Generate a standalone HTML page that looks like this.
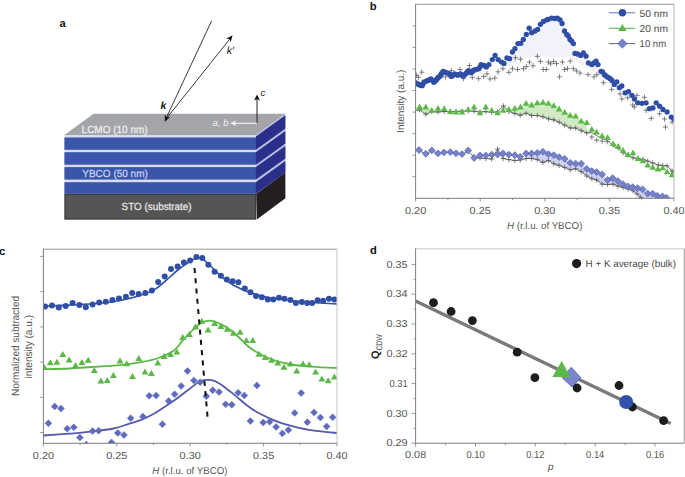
<!DOCTYPE html><html><head><meta charset="utf-8"><style>html,body{margin:0;padding:0;background:#fff;overflow:hidden}svg{display:block}text{font-family:"Liberation Sans", sans-serif;text-rendering:geometricPrecision}</style></head><body>
<svg width="685" height="477" viewBox="0 0 685 477" font-family='"Liberation Sans", sans-serif'>
<rect width="685" height="477" fill="#fff"/>
<text x="59.6" y="27.2" font-size="11.2" text-anchor="start" fill="#111" font-weight="bold">a</text>
<polygon points="64.4,135 256.2,135 285.4,113.8 93.6,113.8" fill="#a4a5a9"/>
<rect x="64.4" y="135.0" width="191.79999999999998" height="58.8" fill="#d9dcef"/>
<rect x="64.4" y="137.5" width="191.79999999999998" height="12.3" fill="#3a56aa"/>
<rect x="64.4" y="152.2" width="191.79999999999998" height="12.5" fill="#3a56aa"/>
<rect x="64.4" y="167.1" width="191.79999999999998" height="12.5" fill="#3a56aa"/>
<rect x="64.4" y="182.2" width="191.79999999999998" height="11.6" fill="#3a56aa"/>
<rect x="64.9" y="194.3" width="190.8" height="24.8" fill="#555556" stroke="#2c2c2c" stroke-width="1"/>
<polygon points="256.2,135 285.4,113.8 285.4,172.6 256.2,193.8" fill="#b9bde2"/>
<polygon points="255.9,136.4 285.4,115.2 285.4,128.6 255.9,149.8" fill="#2a2f8b"/>
<polygon points="255.9,152.2 285.4,131 285.4,143.5 255.9,164.7" fill="#2a2f8b"/>
<polygon points="255.9,167.1 285.4,145.9 285.4,158.4 255.9,179.6" fill="#2a2f8b"/>
<polygon points="255.9,182.2 285.4,161 285.4,172.6 255.9,193.8" fill="#2a2f8b"/>
<polygon points="256.2,193.8 285.4,172.6 285.4,198.2 256.8,219.4" fill="#231f20"/>
<text x="81.6" y="133.2" font-size="10.3" text-anchor="start" fill="#efeff2" textLength="66" lengthAdjust="spacingAndGlyphs" stroke="#efeff2" stroke-width="0.25">LCMO (10 nm)</text>
<text x="82.3" y="176.9" font-size="10.3" text-anchor="start" fill="#c8d1f6" textLength="65.5" lengthAdjust="spacingAndGlyphs" stroke="#c8d1f6" stroke-width="0.25">YBCO (50 nm)</text>
<text x="121.6" y="209.6" font-size="10.3" text-anchor="start" fill="#e6e6e6" textLength="70" lengthAdjust="spacingAndGlyphs" stroke="#e6e6e6" stroke-width="0.25">STO (substrate)</text>
<line x1="211.7" y1="20.7" x2="166" y2="118.5" stroke="#222" stroke-width="0.9"/>
<line x1="166" y1="119" x2="229.8" y2="39" stroke="#222" stroke-width="0.9"/>
<polygon points="164.7,121.8 164.9,114.4 166.8,117.4 170.2,116.9" fill="#111"/>
<polygon points="232.6,35.2 230.6,42.3 229.6,39 226.1,38.7" fill="#111"/>
<text x="160.4" y="108.9" font-size="10.5" text-anchor="start" fill="#111" font-weight="bold" font-style="italic">k</text>
<text x="226.8" y="53.8" font-size="10.5" text-anchor="start" fill="#111" font-style="italic">k′</text>
<line x1="257" y1="123.3" x2="257" y2="99" stroke="#222" stroke-width="1"/>
<polygon points="257,94.6 260,100.6 257,98.9 254,100.6" fill="#111"/>
<text x="260.6" y="95.6" font-size="9.5" text-anchor="start" fill="#111" font-style="italic">c</text>
<line x1="257" y1="123.3" x2="234" y2="123.3" stroke="#f2f2f2" stroke-width="1.1"/>
<polygon points="230,123.3 236.5,120.3 234.7,123.3 236.5,126.3" fill="#f2f2f2"/>
<text x="212.6" y="126" font-size="9.5" text-anchor="start" fill="#f0f0f0" font-style="italic">a, b</text>
<text x="369.8" y="10" font-size="11.2" text-anchor="start" fill="#111" font-weight="bold">b</text>
<defs><clipPath id="cb"><rect x="415.6" y="4.3" width="258.4" height="194"/></clipPath></defs>
<g clip-path="url(#cb)">
<polygon points="507,66 509.5,58.7 512.4,52 514.9,48.7 517.9,43.6 520.8,43.3 523.3,39.4 526.3,34.4 529.2,28.2 531.7,32.7 535,31 537.6,29.4 540.4,24.3 543.4,21.5 546.8,19.8 548.2,19.3 551.6,18.1 554.9,18.5 557.4,18.1 560,19.8 562.1,23.5 564.5,31 566.7,34.4 568.3,36 570,39.4 571.7,41.1 573.4,43.6 575,53.4 577.6,54 580.6,55.4 583.4,52.9 586,56.2 588.5,62.9 591.8,64.6 594,63 596,61.2 598,64.6 600,80 600,76 590,70 580,64 570,58 560,57 550,57 540,56.5 530,57.5 520,59 515,62 507,66" fill="#f2f2fa"/>
<polygon points="415.6,107.5 419.6,106.8 425.8,106.8 431.8,110.1 431.8,111.5 425.8,114.3 419.6,109.8 415.6,110.5" fill="#cfeac4"/>
<polygon points="503.1,110.1 508.8,109.3 514.8,108.1 520.5,106.8 526.1,103.1 531.6,104.8 537.3,102.6 542.9,102.1 548.4,103.1 553.8,105.4 559.1,108.8 564.7,112.1 570.2,115.2 575.7,115.9 581.2,121 586.7,122.5 586.7,132.9 581.2,130.7 575.7,128 570.2,128 564.7,125.2 559.1,122.2 553.8,119.9 548.4,118.9 542.9,116.8 537.3,115.5 531.6,115.5 526.1,113.2 520.2,115.2 514.8,113.5 508.8,111.5 503.4,105.9" fill="#cfeac4"/>
<polygon points="526.1,153.4 531.6,153.4 537.3,152.9 542.9,151.7 548.4,154.1 553.8,155.1 559.1,157.1 564.7,158.8 570.2,162.8 575.7,163.7 581.2,163.7 586.7,168.8 591.8,171 596.6,172.1 602.1,174.4 607.6,180 612.6,178.1 617.8,181 622.8,184.1 627.8,186.3 632.7,187.1 637.6,188.2 642.6,189.4 647.7,193.5 652.6,193.6 657.2,195.8 662.5,196.4 666.4,197.7 645,201 640.7,197.4 637,194 633,190.8 628,189 623.1,187.5 618,186 613.2,184.2 607.6,184.5 602.1,184.2 596.6,180 591.8,178.7 586.7,176 581.2,171.7 575.7,168.8 570.2,169.8 564.7,167.5 559.1,165.5 553.8,163.8 548.4,160.5 542.9,162.5 537.3,159.6 531.6,158.5 526.1,158.5" fill="#cdd0ee"/>
<polyline points="416.6,75.2 418.3,77.3 421.7,72.2 445.4,76.9 451.3,70.6 460.1,69.5 463.5,78.6 469.4,65.5 472.3,77.3 478.6,78.6 483.7,76.5 487,73.8 490,79 494.8,78 498,71.8 502.9,68.7 508.8,72.4 512.5,68.7 515.4,57.7 517.6,69.5 520.6,59.2 523.5,68.7 526.4,66.5 529.4,62.1 533,65.8 537.4,56.3 540.4,61.4 543.3,69.5 546.3,69.5 548.5,62.1 550.7,63.8 553.6,61.4 556.5,63.6 559.5,76.8 562.4,62.1 564.6,69.5 567.5,68.7 570.2,61.1 573.4,68.7 576.4,70.9 580,73.1 588.1,74.6 594,76.8 596.9,74.6 603.4,82.7 611.7,89.4 620.1,93.9 621.8,99 627.7,97.8 632.7,105 634.4,107 636.9,95.3 644.5,97.3 646.1,110.4 651.2,118.4 659.6,113.7 664.6,119 665.4,127.1 672.1,122.1" fill="none" stroke="#dcdcdc" stroke-width="0.4"/>
<path d="M414,75.2h5.2M416.6,72.6v5.2" stroke="#5c5c5c" stroke-width="0.75" fill="none"/>
<path d="M415.7,77.3h5.2M418.3,74.7v5.2" stroke="#5c5c5c" stroke-width="0.75" fill="none"/>
<path d="M419.1,72.2h5.2M421.7,69.6v5.2" stroke="#5c5c5c" stroke-width="0.75" fill="none"/>
<path d="M442.8,76.9h5.2M445.4,74.3v5.2" stroke="#5c5c5c" stroke-width="0.75" fill="none"/>
<path d="M448.7,70.6h5.2M451.3,68v5.2" stroke="#5c5c5c" stroke-width="0.75" fill="none"/>
<path d="M457.5,69.5h5.2M460.1,66.9v5.2" stroke="#5c5c5c" stroke-width="0.75" fill="none"/>
<path d="M460.9,78.6h5.2M463.5,76v5.2" stroke="#5c5c5c" stroke-width="0.75" fill="none"/>
<path d="M466.8,65.5h5.2M469.4,62.9v5.2" stroke="#5c5c5c" stroke-width="0.75" fill="none"/>
<path d="M469.7,77.3h5.2M472.3,74.7v5.2" stroke="#5c5c5c" stroke-width="0.75" fill="none"/>
<path d="M476,78.6h5.2M478.6,76v5.2" stroke="#5c5c5c" stroke-width="0.75" fill="none"/>
<path d="M481.1,76.5h5.2M483.7,73.9v5.2" stroke="#5c5c5c" stroke-width="0.75" fill="none"/>
<path d="M484.4,73.8h5.2M487,71.2v5.2" stroke="#5c5c5c" stroke-width="0.75" fill="none"/>
<path d="M487.4,79h5.2M490,76.4v5.2" stroke="#5c5c5c" stroke-width="0.75" fill="none"/>
<path d="M492.2,78h5.2M494.8,75.4v5.2" stroke="#5c5c5c" stroke-width="0.75" fill="none"/>
<path d="M495.4,71.8h5.2M498,69.2v5.2" stroke="#5c5c5c" stroke-width="0.75" fill="none"/>
<path d="M500.3,68.7h5.2M502.9,66.1v5.2" stroke="#5c5c5c" stroke-width="0.75" fill="none"/>
<path d="M506.2,72.4h5.2M508.8,69.8v5.2" stroke="#5c5c5c" stroke-width="0.75" fill="none"/>
<path d="M509.9,68.7h5.2M512.5,66.1v5.2" stroke="#5c5c5c" stroke-width="0.75" fill="none"/>
<path d="M512.8,57.7h5.2M515.4,55.1v5.2" stroke="#5c5c5c" stroke-width="0.75" fill="none"/>
<path d="M515,69.5h5.2M517.6,66.9v5.2" stroke="#5c5c5c" stroke-width="0.75" fill="none"/>
<path d="M518,59.2h5.2M520.6,56.6v5.2" stroke="#5c5c5c" stroke-width="0.75" fill="none"/>
<path d="M520.9,68.7h5.2M523.5,66.1v5.2" stroke="#5c5c5c" stroke-width="0.75" fill="none"/>
<path d="M523.8,66.5h5.2M526.4,63.9v5.2" stroke="#5c5c5c" stroke-width="0.75" fill="none"/>
<path d="M526.8,62.1h5.2M529.4,59.5v5.2" stroke="#5c5c5c" stroke-width="0.75" fill="none"/>
<path d="M530.4,65.8h5.2M533,63.2v5.2" stroke="#5c5c5c" stroke-width="0.75" fill="none"/>
<path d="M534.8,56.3h5.2M537.4,53.7v5.2" stroke="#5c5c5c" stroke-width="0.75" fill="none"/>
<path d="M537.8,61.4h5.2M540.4,58.8v5.2" stroke="#5c5c5c" stroke-width="0.75" fill="none"/>
<path d="M540.7,69.5h5.2M543.3,66.9v5.2" stroke="#5c5c5c" stroke-width="0.75" fill="none"/>
<path d="M543.7,69.5h5.2M546.3,66.9v5.2" stroke="#5c5c5c" stroke-width="0.75" fill="none"/>
<path d="M545.9,62.1h5.2M548.5,59.5v5.2" stroke="#5c5c5c" stroke-width="0.75" fill="none"/>
<path d="M548.1,63.8h5.2M550.7,61.2v5.2" stroke="#5c5c5c" stroke-width="0.75" fill="none"/>
<path d="M551,61.4h5.2M553.6,58.8v5.2" stroke="#5c5c5c" stroke-width="0.75" fill="none"/>
<path d="M553.9,63.6h5.2M556.5,61v5.2" stroke="#5c5c5c" stroke-width="0.75" fill="none"/>
<path d="M556.9,76.8h5.2M559.5,74.2v5.2" stroke="#5c5c5c" stroke-width="0.75" fill="none"/>
<path d="M559.8,62.1h5.2M562.4,59.5v5.2" stroke="#5c5c5c" stroke-width="0.75" fill="none"/>
<path d="M562,69.5h5.2M564.6,66.9v5.2" stroke="#5c5c5c" stroke-width="0.75" fill="none"/>
<path d="M564.9,68.7h5.2M567.5,66.1v5.2" stroke="#5c5c5c" stroke-width="0.75" fill="none"/>
<path d="M567.6,61.1h5.2M570.2,58.5v5.2" stroke="#5c5c5c" stroke-width="0.75" fill="none"/>
<path d="M570.8,68.7h5.2M573.4,66.1v5.2" stroke="#5c5c5c" stroke-width="0.75" fill="none"/>
<path d="M573.8,70.9h5.2M576.4,68.3v5.2" stroke="#5c5c5c" stroke-width="0.75" fill="none"/>
<path d="M577.4,73.1h5.2M580,70.5v5.2" stroke="#5c5c5c" stroke-width="0.75" fill="none"/>
<path d="M585.5,74.6h5.2M588.1,72v5.2" stroke="#5c5c5c" stroke-width="0.75" fill="none"/>
<path d="M591.4,76.8h5.2M594,74.2v5.2" stroke="#5c5c5c" stroke-width="0.75" fill="none"/>
<path d="M594.3,74.6h5.2M596.9,72v5.2" stroke="#5c5c5c" stroke-width="0.75" fill="none"/>
<path d="M600.8,82.7h5.2M603.4,80.1v5.2" stroke="#5c5c5c" stroke-width="0.75" fill="none"/>
<path d="M609.1,89.4h5.2M611.7,86.8v5.2" stroke="#5c5c5c" stroke-width="0.75" fill="none"/>
<path d="M617.5,93.9h5.2M620.1,91.3v5.2" stroke="#5c5c5c" stroke-width="0.75" fill="none"/>
<path d="M619.2,99h5.2M621.8,96.4v5.2" stroke="#5c5c5c" stroke-width="0.75" fill="none"/>
<path d="M625.1,97.8h5.2M627.7,95.2v5.2" stroke="#5c5c5c" stroke-width="0.75" fill="none"/>
<path d="M630.1,105h5.2M632.7,102.4v5.2" stroke="#5c5c5c" stroke-width="0.75" fill="none"/>
<path d="M631.8,107h5.2M634.4,104.4v5.2" stroke="#5c5c5c" stroke-width="0.75" fill="none"/>
<path d="M634.3,95.3h5.2M636.9,92.7v5.2" stroke="#5c5c5c" stroke-width="0.75" fill="none"/>
<path d="M641.9,97.3h5.2M644.5,94.7v5.2" stroke="#5c5c5c" stroke-width="0.75" fill="none"/>
<path d="M643.5,110.4h5.2M646.1,107.8v5.2" stroke="#5c5c5c" stroke-width="0.75" fill="none"/>
<path d="M648.6,118.4h5.2M651.2,115.8v5.2" stroke="#5c5c5c" stroke-width="0.75" fill="none"/>
<path d="M657,113.7h5.2M659.6,111.1v5.2" stroke="#5c5c5c" stroke-width="0.75" fill="none"/>
<path d="M662,119h5.2M664.6,116.4v5.2" stroke="#5c5c5c" stroke-width="0.75" fill="none"/>
<path d="M662.8,127.1h5.2M665.4,124.5v5.2" stroke="#5c5c5c" stroke-width="0.75" fill="none"/>
<path d="M669.5,122.1h5.2M672.1,119.5v5.2" stroke="#5c5c5c" stroke-width="0.75" fill="none"/>
<polyline points="415.6,110.5 419.6,109.8 425.8,114.3 431.8,111.5 438,112 444.2,111.5 450.3,111.8 456,111.5 462,111 468.2,111 474.1,111.2 480,112 485.8,111.6 491.7,112.5 497.6,111.8 503.4,105.9 508.8,111.5 514.8,113.5 520.2,115.2 526.1,113.2 531.6,115.5 537.3,115.5 542.9,116.8 548.4,118.9 553.8,119.9 559.1,122.2 564.7,125.2 570.2,128 575.7,128 581.2,130.7 586.7,132.9 591.8,132.5 596.6,135.5 602.1,138.6 607.6,140.3 613.2,146 618.2,148.4 623.1,152.7 628,155 633,157.8 638,158.5 643,159.5 647.7,161.1 652.8,163 658.3,165 662.7,165.5 667.1,165.9 672,171 674,172" fill="none" stroke="#4a4a4a" stroke-width="0.8"/>
<path d="M417,109.8h5.2M419.6,107.2v5.2" stroke="#555" stroke-width="0.75" fill="none"/>
<path d="M423.2,114.3h5.2M425.8,111.7v5.2" stroke="#555" stroke-width="0.75" fill="none"/>
<path d="M429.2,111.5h5.2M431.8,108.9v5.2" stroke="#555" stroke-width="0.75" fill="none"/>
<path d="M435.4,112h5.2M438,109.4v5.2" stroke="#555" stroke-width="0.75" fill="none"/>
<path d="M441.6,111.5h5.2M444.2,108.9v5.2" stroke="#555" stroke-width="0.75" fill="none"/>
<path d="M447.7,111.8h5.2M450.3,109.2v5.2" stroke="#555" stroke-width="0.75" fill="none"/>
<path d="M453.4,111.5h5.2M456,108.9v5.2" stroke="#555" stroke-width="0.75" fill="none"/>
<path d="M459.4,111h5.2M462,108.4v5.2" stroke="#555" stroke-width="0.75" fill="none"/>
<path d="M465.6,111h5.2M468.2,108.4v5.2" stroke="#555" stroke-width="0.75" fill="none"/>
<path d="M471.5,111.2h5.2M474.1,108.6v5.2" stroke="#555" stroke-width="0.75" fill="none"/>
<path d="M477.4,112h5.2M480,109.4v5.2" stroke="#555" stroke-width="0.75" fill="none"/>
<path d="M483.2,111.6h5.2M485.8,109v5.2" stroke="#555" stroke-width="0.75" fill="none"/>
<path d="M489.1,112.5h5.2M491.7,109.9v5.2" stroke="#555" stroke-width="0.75" fill="none"/>
<path d="M495,111.8h5.2M497.6,109.2v5.2" stroke="#555" stroke-width="0.75" fill="none"/>
<path d="M500.8,105.9h5.2M503.4,103.3v5.2" stroke="#555" stroke-width="0.75" fill="none"/>
<path d="M506.2,111.5h5.2M508.8,108.9v5.2" stroke="#555" stroke-width="0.75" fill="none"/>
<path d="M512.2,113.5h5.2M514.8,110.9v5.2" stroke="#555" stroke-width="0.75" fill="none"/>
<path d="M517.6,115.2h5.2M520.2,112.6v5.2" stroke="#555" stroke-width="0.75" fill="none"/>
<path d="M523.5,113.2h5.2M526.1,110.6v5.2" stroke="#555" stroke-width="0.75" fill="none"/>
<path d="M529,115.5h5.2M531.6,112.9v5.2" stroke="#555" stroke-width="0.75" fill="none"/>
<path d="M534.7,115.5h5.2M537.3,112.9v5.2" stroke="#555" stroke-width="0.75" fill="none"/>
<path d="M540.3,116.8h5.2M542.9,114.2v5.2" stroke="#555" stroke-width="0.75" fill="none"/>
<path d="M545.8,118.9h5.2M548.4,116.3v5.2" stroke="#555" stroke-width="0.75" fill="none"/>
<path d="M551.2,119.9h5.2M553.8,117.3v5.2" stroke="#555" stroke-width="0.75" fill="none"/>
<path d="M556.5,122.2h5.2M559.1,119.6v5.2" stroke="#555" stroke-width="0.75" fill="none"/>
<path d="M562.1,125.2h5.2M564.7,122.6v5.2" stroke="#555" stroke-width="0.75" fill="none"/>
<path d="M567.6,128h5.2M570.2,125.4v5.2" stroke="#555" stroke-width="0.75" fill="none"/>
<path d="M573.1,128h5.2M575.7,125.4v5.2" stroke="#555" stroke-width="0.75" fill="none"/>
<path d="M578.6,130.7h5.2M581.2,128.1v5.2" stroke="#555" stroke-width="0.75" fill="none"/>
<path d="M584.1,132.9h5.2M586.7,130.3v5.2" stroke="#555" stroke-width="0.75" fill="none"/>
<path d="M589.2,137h5.2M591.8,134.4v5.2" stroke="#555" stroke-width="0.75" fill="none"/>
<path d="M594,140.2h5.2M596.6,137.6v5.2" stroke="#555" stroke-width="0.75" fill="none"/>
<path d="M599.5,141h5.2M602.1,138.4v5.2" stroke="#555" stroke-width="0.75" fill="none"/>
<path d="M604.6,141.7h5.2M607.2,139.1v5.2" stroke="#555" stroke-width="0.75" fill="none"/>
<path d="M610.6,145h5.2M613.2,142.4v5.2" stroke="#555" stroke-width="0.75" fill="none"/>
<path d="M615.6,147.9h5.2M618.2,145.3v5.2" stroke="#555" stroke-width="0.75" fill="none"/>
<path d="M620.5,152.7h5.2M623.1,150.1v5.2" stroke="#555" stroke-width="0.75" fill="none"/>
<path d="M625.4,155h5.2M628,152.4v5.2" stroke="#555" stroke-width="0.75" fill="none"/>
<path d="M630.4,157.8h5.2M633,155.2v5.2" stroke="#555" stroke-width="0.75" fill="none"/>
<path d="M635.4,158.5h5.2M638,155.9v5.2" stroke="#555" stroke-width="0.75" fill="none"/>
<path d="M640.4,159.5h5.2M643,156.9v5.2" stroke="#555" stroke-width="0.75" fill="none"/>
<path d="M645.1,161.1h5.2M647.7,158.5v5.2" stroke="#555" stroke-width="0.75" fill="none"/>
<path d="M650.2,163h5.2M652.8,160.4v5.2" stroke="#555" stroke-width="0.75" fill="none"/>
<path d="M655.7,165h5.2M658.3,162.4v5.2" stroke="#555" stroke-width="0.75" fill="none"/>
<path d="M660.1,165.5h5.2M662.7,162.9v5.2" stroke="#555" stroke-width="0.75" fill="none"/>
<path d="M664.5,165.9h5.2M667.1,163.3v5.2" stroke="#555" stroke-width="0.75" fill="none"/>
<path d="M669.4,171h5.2M672,168.4v5.2" stroke="#555" stroke-width="0.75" fill="none"/>
<path d="M671.4,172h5.2M674,169.4v5.2" stroke="#555" stroke-width="0.75" fill="none"/>
<polyline points="415.6,150.5 419,150.8 425.8,153.5 431.8,151 438,153.2 444,152.6 450.3,152.4 456,153.3 462,154 468.2,151.5 474.1,157 480,158 485.8,158.5 491.7,159 497.6,149 503.1,158.5 508.8,159.6 514.8,160.5 520.2,160 526.1,158.5 531.6,158.5 537.3,159.6 542.9,162.5 548.4,160.5 553.8,163.8 559.1,165.5 564.7,167.5 570.2,169.8 575.7,168.8 581.2,171.7 586.7,176 591.8,178.7 596.6,180 602.1,184.2 607.6,184.5 613.2,184.2 618,186 623.1,187.5 628,189 633,190.8 637,194 640.7,197.4 645,201" fill="none" stroke="#4a4a4a" stroke-width="0.8"/>
<path d="M416.4,150.8h5.2M419,148.2v5.2" stroke="#555" stroke-width="0.75" fill="none"/>
<path d="M423.2,153.5h5.2M425.8,150.9v5.2" stroke="#555" stroke-width="0.75" fill="none"/>
<path d="M429.2,151h5.2M431.8,148.4v5.2" stroke="#555" stroke-width="0.75" fill="none"/>
<path d="M435.4,153.2h5.2M438,150.6v5.2" stroke="#555" stroke-width="0.75" fill="none"/>
<path d="M441.4,152.6h5.2M444,150v5.2" stroke="#555" stroke-width="0.75" fill="none"/>
<path d="M447.7,152.4h5.2M450.3,149.8v5.2" stroke="#555" stroke-width="0.75" fill="none"/>
<path d="M453.4,153.3h5.2M456,150.7v5.2" stroke="#555" stroke-width="0.75" fill="none"/>
<path d="M459.4,154h5.2M462,151.4v5.2" stroke="#555" stroke-width="0.75" fill="none"/>
<path d="M465.6,151.5h5.2M468.2,148.9v5.2" stroke="#555" stroke-width="0.75" fill="none"/>
<path d="M471.5,157h5.2M474.1,154.4v5.2" stroke="#555" stroke-width="0.75" fill="none"/>
<path d="M477.4,158h5.2M480,155.4v5.2" stroke="#555" stroke-width="0.75" fill="none"/>
<path d="M483.2,158.5h5.2M485.8,155.9v5.2" stroke="#555" stroke-width="0.75" fill="none"/>
<path d="M489.1,159h5.2M491.7,156.4v5.2" stroke="#555" stroke-width="0.75" fill="none"/>
<path d="M495,149h5.2M497.6,146.4v5.2" stroke="#555" stroke-width="0.75" fill="none"/>
<path d="M500.5,158.5h5.2M503.1,155.9v5.2" stroke="#555" stroke-width="0.75" fill="none"/>
<path d="M506.2,159.6h5.2M508.8,157v5.2" stroke="#555" stroke-width="0.75" fill="none"/>
<path d="M512.2,160.5h5.2M514.8,157.9v5.2" stroke="#555" stroke-width="0.75" fill="none"/>
<path d="M517.6,160h5.2M520.2,157.4v5.2" stroke="#555" stroke-width="0.75" fill="none"/>
<path d="M523.5,158.5h5.2M526.1,155.9v5.2" stroke="#555" stroke-width="0.75" fill="none"/>
<path d="M529,158.5h5.2M531.6,155.9v5.2" stroke="#555" stroke-width="0.75" fill="none"/>
<path d="M534.7,159.6h5.2M537.3,157v5.2" stroke="#555" stroke-width="0.75" fill="none"/>
<path d="M540.3,162.5h5.2M542.9,159.9v5.2" stroke="#555" stroke-width="0.75" fill="none"/>
<path d="M545.8,160.5h5.2M548.4,157.9v5.2" stroke="#555" stroke-width="0.75" fill="none"/>
<path d="M551.2,163.8h5.2M553.8,161.2v5.2" stroke="#555" stroke-width="0.75" fill="none"/>
<path d="M556.5,165.5h5.2M559.1,162.9v5.2" stroke="#555" stroke-width="0.75" fill="none"/>
<path d="M562.1,167.5h5.2M564.7,164.9v5.2" stroke="#555" stroke-width="0.75" fill="none"/>
<path d="M567.6,169.8h5.2M570.2,167.2v5.2" stroke="#555" stroke-width="0.75" fill="none"/>
<path d="M573.1,168.8h5.2M575.7,166.2v5.2" stroke="#555" stroke-width="0.75" fill="none"/>
<path d="M578.6,171.7h5.2M581.2,169.1v5.2" stroke="#555" stroke-width="0.75" fill="none"/>
<path d="M584.1,176h5.2M586.7,173.4v5.2" stroke="#555" stroke-width="0.75" fill="none"/>
<path d="M589.2,178.7h5.2M591.8,176.1v5.2" stroke="#555" stroke-width="0.75" fill="none"/>
<path d="M594,180h5.2M596.6,177.4v5.2" stroke="#555" stroke-width="0.75" fill="none"/>
<path d="M599.5,184.2h5.2M602.1,181.6v5.2" stroke="#555" stroke-width="0.75" fill="none"/>
<path d="M605,184.5h5.2M607.6,181.9v5.2" stroke="#555" stroke-width="0.75" fill="none"/>
<path d="M610.6,184.2h5.2M613.2,181.6v5.2" stroke="#555" stroke-width="0.75" fill="none"/>
<path d="M615.4,186h5.2M618,183.4v5.2" stroke="#555" stroke-width="0.75" fill="none"/>
<path d="M620.5,187.5h5.2M623.1,184.9v5.2" stroke="#555" stroke-width="0.75" fill="none"/>
<path d="M625.4,189h5.2M628,186.4v5.2" stroke="#555" stroke-width="0.75" fill="none"/>
<path d="M630.4,190.8h5.2M633,188.2v5.2" stroke="#555" stroke-width="0.75" fill="none"/>
<path d="M634.4,194h5.2M637,191.4v5.2" stroke="#555" stroke-width="0.75" fill="none"/>
<path d="M638.1,197.4h5.2M640.7,194.8v5.2" stroke="#555" stroke-width="0.75" fill="none"/>
<path d="M642.4,201h5.2M645,198.4v5.2" stroke="#555" stroke-width="0.75" fill="none"/>
<circle cx="415.6" cy="82.7" r="2.65" fill="#2f4ea6"/>
<circle cx="417.9" cy="84" r="2.65" fill="#2f4ea6"/>
<circle cx="419.1" cy="84.7" r="2.65" fill="#2f4ea6"/>
<circle cx="420.4" cy="85.3" r="2.65" fill="#2f4ea6"/>
<circle cx="422.1" cy="85.7" r="2.65" fill="#2f4ea6"/>
<circle cx="423.1" cy="83.8" r="2.65" fill="#2f4ea6"/>
<circle cx="424.2" cy="81.9" r="2.65" fill="#2f4ea6"/>
<circle cx="426.7" cy="81" r="2.65" fill="#2f4ea6"/>
<circle cx="427.9" cy="80.4" r="2.65" fill="#2f4ea6"/>
<circle cx="429.2" cy="79.8" r="2.65" fill="#2f4ea6"/>
<circle cx="430.9" cy="79" r="2.65" fill="#2f4ea6"/>
<circle cx="432.6" cy="80.6" r="2.65" fill="#2f4ea6"/>
<circle cx="433.8" cy="82.3" r="2.65" fill="#2f4ea6"/>
<circle cx="434.9" cy="81.2" r="2.65" fill="#2f4ea6"/>
<circle cx="436" cy="80.2" r="2.65" fill="#2f4ea6"/>
<circle cx="437" cy="79" r="2.65" fill="#2f4ea6"/>
<circle cx="438" cy="77.7" r="2.65" fill="#2f4ea6"/>
<circle cx="439.1" cy="76.8" r="2.65" fill="#2f4ea6"/>
<circle cx="440.2" cy="76" r="2.65" fill="#2f4ea6"/>
<circle cx="441" cy="74.5" r="2.65" fill="#2f4ea6"/>
<circle cx="441.8" cy="73.1" r="2.65" fill="#2f4ea6"/>
<circle cx="443.1" cy="71.4" r="2.65" fill="#2f4ea6"/>
<circle cx="445.2" cy="72.2" r="2.65" fill="#2f4ea6"/>
<circle cx="447.3" cy="73.1" r="2.65" fill="#2f4ea6"/>
<circle cx="449.4" cy="73.9" r="2.65" fill="#2f4ea6"/>
<circle cx="450.4" cy="75.2" r="2.65" fill="#2f4ea6"/>
<circle cx="451.4" cy="76.4" r="2.65" fill="#2f4ea6"/>
<circle cx="453" cy="75.2" r="2.65" fill="#2f4ea6"/>
<circle cx="454.7" cy="74" r="2.65" fill="#2f4ea6"/>
<circle cx="456.1" cy="74.6" r="2.65" fill="#2f4ea6"/>
<circle cx="457.6" cy="75.2" r="2.65" fill="#2f4ea6"/>
<circle cx="459.1" cy="74.6" r="2.65" fill="#2f4ea6"/>
<circle cx="460.5" cy="74" r="2.65" fill="#2f4ea6"/>
<circle cx="461.8" cy="75" r="2.65" fill="#2f4ea6"/>
<circle cx="463.1" cy="76.1" r="2.65" fill="#2f4ea6"/>
<circle cx="464.6" cy="74.8" r="2.65" fill="#2f4ea6"/>
<circle cx="466" cy="73.5" r="2.65" fill="#2f4ea6"/>
<circle cx="467.2" cy="72" r="2.65" fill="#2f4ea6"/>
<circle cx="468.5" cy="70.6" r="2.65" fill="#2f4ea6"/>
<circle cx="469.8" cy="71.7" r="2.65" fill="#2f4ea6"/>
<circle cx="471" cy="72.7" r="2.65" fill="#2f4ea6"/>
<circle cx="472.3" cy="71.5" r="2.65" fill="#2f4ea6"/>
<circle cx="473.6" cy="70.2" r="2.65" fill="#2f4ea6"/>
<circle cx="475.1" cy="69.8" r="2.65" fill="#2f4ea6"/>
<circle cx="476.5" cy="69.3" r="2.65" fill="#2f4ea6"/>
<circle cx="478.8" cy="68.8" r="2.65" fill="#2f4ea6"/>
<circle cx="480" cy="66.8" r="2.65" fill="#2f4ea6"/>
<circle cx="481.1" cy="64.7" r="2.65" fill="#2f4ea6"/>
<circle cx="484.1" cy="65.5" r="2.65" fill="#2f4ea6"/>
<circle cx="486.4" cy="67.1" r="2.65" fill="#2f4ea6"/>
<circle cx="488.9" cy="64.6" r="2.65" fill="#2f4ea6"/>
<circle cx="492.3" cy="59.6" r="2.65" fill="#2f4ea6"/>
<circle cx="495.1" cy="55.4" r="2.65" fill="#2f4ea6"/>
<circle cx="498.1" cy="59.6" r="2.65" fill="#2f4ea6"/>
<circle cx="501.5" cy="62.1" r="2.65" fill="#2f4ea6"/>
<circle cx="504" cy="63.4" r="2.65" fill="#2f4ea6"/>
<circle cx="506.9" cy="57.9" r="2.65" fill="#2f4ea6"/>
<circle cx="509.5" cy="58.7" r="2.65" fill="#2f4ea6"/>
<circle cx="512.4" cy="52" r="2.65" fill="#2f4ea6"/>
<circle cx="514.9" cy="48.7" r="2.65" fill="#2f4ea6"/>
<circle cx="517.9" cy="43.6" r="2.65" fill="#2f4ea6"/>
<circle cx="520.8" cy="43.3" r="2.65" fill="#2f4ea6"/>
<circle cx="523.3" cy="39.4" r="2.65" fill="#2f4ea6"/>
<circle cx="526.3" cy="34.4" r="2.65" fill="#2f4ea6"/>
<circle cx="529.2" cy="28.2" r="2.65" fill="#2f4ea6"/>
<circle cx="531.7" cy="32.7" r="2.65" fill="#2f4ea6"/>
<circle cx="535" cy="31" r="2.65" fill="#2f4ea6"/>
<circle cx="537.6" cy="29.4" r="2.65" fill="#2f4ea6"/>
<circle cx="540.4" cy="24.3" r="2.65" fill="#2f4ea6"/>
<circle cx="543.4" cy="21.5" r="2.65" fill="#2f4ea6"/>
<circle cx="546.8" cy="19.8" r="2.65" fill="#2f4ea6"/>
<circle cx="548.2" cy="19.3" r="2.65" fill="#2f4ea6"/>
<circle cx="551.6" cy="18.1" r="2.65" fill="#2f4ea6"/>
<circle cx="554.9" cy="18.5" r="2.65" fill="#2f4ea6"/>
<circle cx="557.4" cy="18.1" r="2.65" fill="#2f4ea6"/>
<circle cx="560" cy="19.8" r="2.65" fill="#2f4ea6"/>
<circle cx="562.1" cy="23.5" r="2.65" fill="#2f4ea6"/>
<circle cx="564.5" cy="31" r="2.65" fill="#2f4ea6"/>
<circle cx="566.7" cy="34.4" r="2.65" fill="#2f4ea6"/>
<circle cx="568.3" cy="36" r="2.65" fill="#2f4ea6"/>
<circle cx="570" cy="39.4" r="2.65" fill="#2f4ea6"/>
<circle cx="571.7" cy="41.1" r="2.65" fill="#2f4ea6"/>
<circle cx="573.4" cy="43.6" r="2.65" fill="#2f4ea6"/>
<circle cx="575" cy="53.4" r="2.65" fill="#2f4ea6"/>
<circle cx="577.6" cy="54" r="2.65" fill="#2f4ea6"/>
<circle cx="580.6" cy="55.4" r="2.65" fill="#2f4ea6"/>
<circle cx="583.4" cy="52.9" r="2.65" fill="#2f4ea6"/>
<circle cx="586" cy="56.2" r="2.65" fill="#2f4ea6"/>
<circle cx="588.5" cy="62.9" r="2.65" fill="#2f4ea6"/>
<circle cx="591.8" cy="64.6" r="2.65" fill="#2f4ea6"/>
<circle cx="594" cy="63" r="2.65" fill="#2f4ea6"/>
<circle cx="596" cy="61.2" r="2.65" fill="#2f4ea6"/>
<circle cx="598" cy="64.6" r="2.65" fill="#2f4ea6"/>
<circle cx="601" cy="71.3" r="2.65" fill="#2f4ea6"/>
<circle cx="602.5" cy="71.8" r="2.65" fill="#2f4ea6"/>
<circle cx="604.4" cy="74.7" r="2.65" fill="#2f4ea6"/>
<circle cx="605.9" cy="76" r="2.65" fill="#2f4ea6"/>
<circle cx="607.8" cy="77.2" r="2.65" fill="#2f4ea6"/>
<circle cx="610" cy="78.5" r="2.65" fill="#2f4ea6"/>
<circle cx="612" cy="80.5" r="2.65" fill="#2f4ea6"/>
<circle cx="614.3" cy="84.4" r="2.65" fill="#2f4ea6"/>
<circle cx="616.8" cy="81.8" r="2.65" fill="#2f4ea6"/>
<circle cx="619.3" cy="87.7" r="2.65" fill="#2f4ea6"/>
<circle cx="621.8" cy="86" r="2.65" fill="#2f4ea6"/>
<circle cx="625.2" cy="92.8" r="2.65" fill="#2f4ea6"/>
<circle cx="628.5" cy="91.6" r="2.65" fill="#2f4ea6"/>
<circle cx="631.9" cy="95.3" r="2.65" fill="#2f4ea6"/>
<circle cx="634.4" cy="99" r="2.65" fill="#2f4ea6"/>
<circle cx="637.8" cy="102.8" r="2.65" fill="#2f4ea6"/>
<circle cx="642" cy="103.3" r="2.65" fill="#2f4ea6"/>
<circle cx="646.1" cy="102.8" r="2.65" fill="#2f4ea6"/>
<circle cx="649.5" cy="108.7" r="2.65" fill="#2f4ea6"/>
<circle cx="652.9" cy="107.9" r="2.65" fill="#2f4ea6"/>
<circle cx="656.2" cy="102.8" r="2.65" fill="#2f4ea6"/>
<circle cx="659.6" cy="106.2" r="2.65" fill="#2f4ea6"/>
<circle cx="662.9" cy="109.5" r="2.65" fill="#2f4ea6"/>
<circle cx="667.1" cy="112" r="2.65" fill="#2f4ea6"/>
<circle cx="671.3" cy="117.1" r="2.65" fill="#2f4ea6"/>
<circle cx="674" cy="119" r="2.65" fill="#2f4ea6"/>
<polygon points="419.6,103.6 416.3,109.4 422.9,109.4" fill="#5cb847"/>
<polygon points="425.8,103.6 422.5,109.4 429.1,109.4" fill="#5cb847"/>
<polygon points="431.8,106.9 428.5,112.7 435.1,112.7" fill="#5cb847"/>
<polygon points="438,104.9 434.7,110.7 441.3,110.7" fill="#5cb847"/>
<polygon points="444.2,105.3 440.9,111.1 447.5,111.1" fill="#5cb847"/>
<polygon points="450.3,108.3 447,114.1 453.6,114.1" fill="#5cb847"/>
<polygon points="456,108.6 452.7,114.4 459.3,114.4" fill="#5cb847"/>
<polygon points="462,108.6 458.7,114.4 465.3,114.4" fill="#5cb847"/>
<polygon points="468.2,106.1 464.9,111.9 471.5,111.9" fill="#5cb847"/>
<polygon points="474.1,103.6 470.8,109.4 477.4,109.4" fill="#5cb847"/>
<polygon points="480,109.5 476.7,115.3 483.3,115.3" fill="#5cb847"/>
<polygon points="485.8,103.6 482.5,109.4 489.1,109.4" fill="#5cb847"/>
<polygon points="491.7,106.9 488.4,112.7 495,112.7" fill="#5cb847"/>
<polygon points="497.6,109.5 494.3,115.3 500.9,115.3" fill="#5cb847"/>
<polygon points="503.1,106.9 499.8,112.7 506.4,112.7" fill="#5cb847"/>
<polygon points="508.8,106.1 505.5,111.9 512.1,111.9" fill="#5cb847"/>
<polygon points="514.8,104.9 511.5,110.7 518.1,110.7" fill="#5cb847"/>
<polygon points="520.5,103.6 517.2,109.4 523.8,109.4" fill="#5cb847"/>
<polygon points="526.1,99.9 522.8,105.7 529.4,105.7" fill="#5cb847"/>
<polygon points="531.6,101.6 528.3,107.4 534.9,107.4" fill="#5cb847"/>
<polygon points="537.3,99.4 534,105.2 540.6,105.2" fill="#5cb847"/>
<polygon points="542.9,98.9 539.6,104.7 546.2,104.7" fill="#5cb847"/>
<polygon points="548.4,99.9 545.1,105.7 551.7,105.7" fill="#5cb847"/>
<polygon points="553.8,102.2 550.5,108 557.1,108" fill="#5cb847"/>
<polygon points="559.1,105.6 555.8,111.4 562.4,111.4" fill="#5cb847"/>
<polygon points="564.7,108.9 561.4,114.7 568,114.7" fill="#5cb847"/>
<polygon points="570.2,112 566.9,117.8 573.5,117.8" fill="#5cb847"/>
<polygon points="575.7,112.7 572.4,118.5 579,118.5" fill="#5cb847"/>
<polygon points="581.2,117.8 577.9,123.6 584.5,123.6" fill="#5cb847"/>
<polygon points="586.7,119.3 583.4,125.1 590,125.1" fill="#5cb847"/>
<polygon points="591.8,125.9 588.5,131.7 595.1,131.7" fill="#5cb847"/>
<polygon points="596.6,128.8 593.3,134.6 599.9,134.6" fill="#5cb847"/>
<polygon points="602.1,132.5 598.8,138.3 605.4,138.3" fill="#5cb847"/>
<polygon points="607.6,134.1 604.3,139.9 610.9,139.9" fill="#5cb847"/>
<polygon points="613.2,140.3 609.9,146.1 616.5,146.1" fill="#5cb847"/>
<polygon points="618.2,142.9 614.9,148.7 621.5,148.7" fill="#5cb847"/>
<polygon points="623.1,146.9 619.8,152.7 626.4,152.7" fill="#5cb847"/>
<polygon points="627.9,151.3 624.6,157.1 631.2,157.1" fill="#5cb847"/>
<polygon points="633,149.5 629.7,155.3 636.3,155.3" fill="#5cb847"/>
<polygon points="638,155.2 634.7,161 641.3,161" fill="#5cb847"/>
<polygon points="642.9,157.4 639.6,163.2 646.2,163.2" fill="#5cb847"/>
<polygon points="647.7,161.8 644.4,167.6 651,167.6" fill="#5cb847"/>
<polygon points="652.8,164 649.5,169.8 656.1,169.8" fill="#5cb847"/>
<polygon points="657.9,165.6 654.6,171.4 661.2,171.4" fill="#5cb847"/>
<polygon points="662.7,164.5 659.4,170.3 666,170.3" fill="#5cb847"/>
<polygon points="667.1,168.5 663.8,174.3 670.4,174.3" fill="#5cb847"/>
<polygon points="672,171.5 668.7,177.3 675.3,177.3" fill="#5cb847"/>
<polygon points="419,146.6 422.4,150 419,153.4 415.6,150" fill="#7682c9" stroke="#5562b0" stroke-width="0.7"/>
<polygon points="425.8,150.4 429.2,153.8 425.8,157.2 422.4,153.8" fill="#7682c9" stroke="#5562b0" stroke-width="0.7"/>
<polygon points="431.8,147 435.2,150.4 431.8,153.8 428.4,150.4" fill="#7682c9" stroke="#5562b0" stroke-width="0.7"/>
<polygon points="438,150 441.4,153.4 438,156.8 434.6,153.4" fill="#7682c9" stroke="#5562b0" stroke-width="0.7"/>
<polygon points="443.9,149 447.3,152.4 443.9,155.8 440.5,152.4" fill="#7682c9" stroke="#5562b0" stroke-width="0.7"/>
<polygon points="450.3,148.7 453.7,152.1 450.3,155.5 446.9,152.1" fill="#7682c9" stroke="#5562b0" stroke-width="0.7"/>
<polygon points="456,149.9 459.4,153.3 456,156.7 452.6,153.3" fill="#7682c9" stroke="#5562b0" stroke-width="0.7"/>
<polygon points="462,150.7 465.4,154.1 462,157.5 458.6,154.1" fill="#7682c9" stroke="#5562b0" stroke-width="0.7"/>
<polygon points="468.2,147 471.6,150.4 468.2,153.8 464.8,150.4" fill="#7682c9" stroke="#5562b0" stroke-width="0.7"/>
<polygon points="474.1,154.6 477.5,158 474.1,161.4 470.7,158" fill="#7682c9" stroke="#5562b0" stroke-width="0.7"/>
<polygon points="480,152 483.4,155.4 480,158.8 476.6,155.4" fill="#7682c9" stroke="#5562b0" stroke-width="0.7"/>
<polygon points="485.8,152 489.2,155.4 485.8,158.8 482.4,155.4" fill="#7682c9" stroke="#5562b0" stroke-width="0.7"/>
<polygon points="491.7,151.2 495.1,154.6 491.7,158 488.3,154.6" fill="#7682c9" stroke="#5562b0" stroke-width="0.7"/>
<polygon points="497.6,151.2 501,154.6 497.6,158 494.2,154.6" fill="#7682c9" stroke="#5562b0" stroke-width="0.7"/>
<polygon points="503.1,150 506.5,153.4 503.1,156.8 499.7,153.4" fill="#7682c9" stroke="#5562b0" stroke-width="0.7"/>
<polygon points="508.8,151.2 512.2,154.6 508.8,158 505.4,154.6" fill="#7682c9" stroke="#5562b0" stroke-width="0.7"/>
<polygon points="514.8,151.7 518.2,155.1 514.8,158.5 511.4,155.1" fill="#7682c9" stroke="#5562b0" stroke-width="0.7"/>
<polygon points="520.2,153.4 523.6,156.8 520.2,160.2 516.8,156.8" fill="#7682c9" stroke="#5562b0" stroke-width="0.7"/>
<polygon points="526.1,150 529.5,153.4 526.1,156.8 522.7,153.4" fill="#7682c9" stroke="#5562b0" stroke-width="0.7"/>
<polygon points="531.6,150 535,153.4 531.6,156.8 528.2,153.4" fill="#7682c9" stroke="#5562b0" stroke-width="0.7"/>
<polygon points="537.3,149.5 540.7,152.9 537.3,156.3 533.9,152.9" fill="#7682c9" stroke="#5562b0" stroke-width="0.7"/>
<polygon points="542.9,148.3 546.3,151.7 542.9,155.1 539.5,151.7" fill="#7682c9" stroke="#5562b0" stroke-width="0.7"/>
<polygon points="548.4,150.7 551.8,154.1 548.4,157.5 545,154.1" fill="#7682c9" stroke="#5562b0" stroke-width="0.7"/>
<polygon points="553.8,151.7 557.2,155.1 553.8,158.5 550.4,155.1" fill="#7682c9" stroke="#5562b0" stroke-width="0.7"/>
<polygon points="559.1,153.7 562.5,157.1 559.1,160.5 555.7,157.1" fill="#7682c9" stroke="#5562b0" stroke-width="0.7"/>
<polygon points="564.7,155.4 568.1,158.8 564.7,162.2 561.3,158.8" fill="#7682c9" stroke="#5562b0" stroke-width="0.7"/>
<polygon points="570.2,159.4 573.6,162.8 570.2,166.2 566.8,162.8" fill="#7682c9" stroke="#5562b0" stroke-width="0.7"/>
<polygon points="575.7,160.3 579.1,163.7 575.7,167.1 572.3,163.7" fill="#7682c9" stroke="#5562b0" stroke-width="0.7"/>
<polygon points="581.2,160.3 584.6,163.7 581.2,167.1 577.8,163.7" fill="#7682c9" stroke="#5562b0" stroke-width="0.7"/>
<polygon points="586.7,165.4 590.1,168.8 586.7,172.2 583.3,168.8" fill="#7682c9" stroke="#5562b0" stroke-width="0.7"/>
<polygon points="591.8,167.6 595.2,171 591.8,174.4 588.4,171" fill="#7682c9" stroke="#5562b0" stroke-width="0.7"/>
<polygon points="596.6,168.7 600,172.1 596.6,175.5 593.2,172.1" fill="#7682c9" stroke="#5562b0" stroke-width="0.7"/>
<polygon points="602.1,171 605.5,174.4 602.1,177.8 598.7,174.4" fill="#7682c9" stroke="#5562b0" stroke-width="0.7"/>
<polygon points="607.6,176.6 611,180 607.6,183.4 604.2,180" fill="#7682c9" stroke="#5562b0" stroke-width="0.7"/>
<polygon points="612.6,174.7 616,178.1 612.6,181.5 609.2,178.1" fill="#7682c9" stroke="#5562b0" stroke-width="0.7"/>
<polygon points="617.8,177.6 621.2,181 617.8,184.4 614.4,181" fill="#7682c9" stroke="#5562b0" stroke-width="0.7"/>
<polygon points="622.8,180.7 626.2,184.1 622.8,187.5 619.4,184.1" fill="#7682c9" stroke="#5562b0" stroke-width="0.7"/>
<polygon points="627.8,182.9 631.2,186.3 627.8,189.7 624.4,186.3" fill="#7682c9" stroke="#5562b0" stroke-width="0.7"/>
<polygon points="632.7,183.7 636.1,187.1 632.7,190.5 629.3,187.1" fill="#7682c9" stroke="#5562b0" stroke-width="0.7"/>
<polygon points="637.6,184.8 641,188.2 637.6,191.6 634.2,188.2" fill="#7682c9" stroke="#5562b0" stroke-width="0.7"/>
<polygon points="642.6,186 646,189.4 642.6,192.8 639.2,189.4" fill="#7682c9" stroke="#5562b0" stroke-width="0.7"/>
<polygon points="647.7,190.1 651.1,193.5 647.7,196.9 644.3,193.5" fill="#7682c9" stroke="#5562b0" stroke-width="0.7"/>
<polygon points="652.6,190.2 656,193.6 652.6,197 649.2,193.6" fill="#7682c9" stroke="#5562b0" stroke-width="0.7"/>
<polygon points="657.2,192.4 660.6,195.8 657.2,199.2 653.8,195.8" fill="#7682c9" stroke="#5562b0" stroke-width="0.7"/>
<polygon points="662.5,193 665.9,196.4 662.5,199.8 659.1,196.4" fill="#7682c9" stroke="#5562b0" stroke-width="0.7"/>
<polygon points="666.4,194.3 669.8,197.7 666.4,201.1 663,197.7" fill="#7682c9" stroke="#5562b0" stroke-width="0.7"/>
</g>
<line x1="415.6" y1="4.3" x2="674" y2="4.3" stroke="#979797" stroke-width="1"/>
<line x1="674" y1="4.3" x2="674" y2="198.3" stroke="#b9b9b9" stroke-width="1"/>
<line x1="415.6" y1="3.8" x2="415.6" y2="198.8" stroke="#7d7d7d" stroke-width="1"/>
<line x1="415.6" y1="198.3" x2="674" y2="198.3" stroke="#7d7d7d" stroke-width="1"/>
<line x1="412.4" y1="25.9" x2="415.6" y2="25.9" stroke="#7d7d7d" stroke-width="0.8"/>
<line x1="412.4" y1="47.4" x2="415.6" y2="47.4" stroke="#7d7d7d" stroke-width="0.8"/>
<line x1="412.4" y1="69" x2="415.6" y2="69" stroke="#7d7d7d" stroke-width="0.8"/>
<line x1="412.4" y1="90.5" x2="415.6" y2="90.5" stroke="#7d7d7d" stroke-width="0.8"/>
<line x1="412.4" y1="112.1" x2="415.6" y2="112.1" stroke="#7d7d7d" stroke-width="0.8"/>
<line x1="412.4" y1="133.6" x2="415.6" y2="133.6" stroke="#7d7d7d" stroke-width="0.8"/>
<line x1="412.4" y1="155.2" x2="415.6" y2="155.2" stroke="#7d7d7d" stroke-width="0.8"/>
<line x1="412.4" y1="176.7" x2="415.6" y2="176.7" stroke="#7d7d7d" stroke-width="0.8"/>
<line x1="415.6" y1="198.3" x2="415.6" y2="201.5" stroke="#7d7d7d" stroke-width="0.8"/>
<line x1="447.9" y1="198.3" x2="447.9" y2="200.1" stroke="#7d7d7d" stroke-width="0.8"/>
<line x1="480.2" y1="198.3" x2="480.2" y2="201.5" stroke="#7d7d7d" stroke-width="0.8"/>
<line x1="512.5" y1="198.3" x2="512.5" y2="200.1" stroke="#7d7d7d" stroke-width="0.8"/>
<line x1="544.8" y1="198.3" x2="544.8" y2="201.5" stroke="#7d7d7d" stroke-width="0.8"/>
<line x1="577.1" y1="198.3" x2="577.1" y2="200.1" stroke="#7d7d7d" stroke-width="0.8"/>
<line x1="609.4" y1="198.3" x2="609.4" y2="201.5" stroke="#7d7d7d" stroke-width="0.8"/>
<line x1="641.7" y1="198.3" x2="641.7" y2="200.1" stroke="#7d7d7d" stroke-width="0.8"/>
<line x1="674" y1="198.3" x2="674" y2="201.5" stroke="#7d7d7d" stroke-width="0.8"/>
<text x="415.6" y="214.1" font-size="10.2" text-anchor="middle" fill="#555555" textLength="21.2" lengthAdjust="spacingAndGlyphs" >0.20</text>
<text x="480.2" y="214.1" font-size="10.2" text-anchor="middle" fill="#555555" textLength="21.2" lengthAdjust="spacingAndGlyphs" >0.25</text>
<text x="544.8" y="214.1" font-size="10.2" text-anchor="middle" fill="#555555" textLength="21.2" lengthAdjust="spacingAndGlyphs" >0.30</text>
<text x="609.4" y="214.1" font-size="10.2" text-anchor="middle" fill="#555555" textLength="21.2" lengthAdjust="spacingAndGlyphs" >0.35</text>
<text x="674" y="214.1" font-size="10.2" text-anchor="middle" fill="#555555" textLength="21.2" lengthAdjust="spacingAndGlyphs" >0.40</text>
<text x="507" y="228.6" font-size="10" text-anchor="start" fill="#555555" textLength="75.4" lengthAdjust="spacingAndGlyphs" ><tspan font-style="italic">H</tspan> (r.l.u. of YBCO)</text>
<text transform="translate(404.2,132.9) rotate(-90)" font-size="10.3" fill="#555555" textLength="63.3" lengthAdjust="spacingAndGlyphs">Intensity (a.u.)</text>
<line x1="608.8" y1="12.8" x2="635.2" y2="12.8" stroke="#6f7fc0" stroke-width="1.1"/>
<circle cx="622.4" cy="12.8" r="3.7" fill="#2f4ea6"/>
<line x1="608.8" y1="28.3" x2="635.2" y2="28.3" stroke="#5cb847" stroke-width="1.1"/>
<polygon points="622.4,24.1 618.3,30.9 626.5,30.9" fill="#5cb847"/>
<line x1="608.8" y1="43.6" x2="635.2" y2="43.6" stroke="#555" stroke-width="0.9"/>
<polygon points="622.4,39 627,43.6 622.4,48.2 617.8,43.6" fill="#7682c9" stroke="#5562b0" stroke-width="0.7"/>
<text x="639.6" y="16.6" font-size="10" text-anchor="start" fill="#484848" textLength="28.4" lengthAdjust="spacingAndGlyphs" >50 nm</text>
<text x="639.6" y="31.7" font-size="10" text-anchor="start" fill="#484848" textLength="28.4" lengthAdjust="spacingAndGlyphs" >20 nm</text>
<text x="639.6" y="46.8" font-size="10" text-anchor="start" fill="#484848" textLength="26.5" lengthAdjust="spacingAndGlyphs" >10 nm</text>
<text x="-1.1" y="255.4" font-size="11.2" text-anchor="start" fill="#111" font-weight="bold">c</text>
<defs><clipPath id="cc"><rect x="43.4" y="249" width="293.6" height="194.3"/></clipPath></defs>
<g clip-path="url(#cc)">
<path d="M43.5,306.2 C47.9,306 60.6,305.5 70,305 C79.4,304.5 91.7,303.9 100,303.2 C108.3,302.4 113.3,301.8 120,300.5 C126.7,299.2 134.1,297.4 140,295.5 C145.9,293.6 150.6,292 155.6,288.9 C160.6,285.8 166.1,280.3 170,277 C173.9,273.7 175.5,271.7 179,269 C182.5,266.3 188,262.8 190.8,261 C193.6,259.2 194.1,258.6 196,258.2 C197.9,257.8 199.9,257.8 202,258.8 C204.1,259.8 204.9,260.8 208.4,264 C211.9,267.2 218.6,274.2 223,277.9 C227.4,281.6 230.4,283.6 234.9,286 C239.4,288.4 245,290.7 250,292.5 C255,294.3 260,295.7 265,296.8 C270,297.9 274.2,298.5 280,299.3 C285.8,300.1 293.3,300.9 300,301.5 C306.7,302.1 313.8,302.6 320,303 C326.2,303.4 334.2,303.8 337,304" fill="none" stroke="#2f4ea6" stroke-width="1.6"/>
<path d="M43.5,369.2 C47.8,369.1 61.4,368.9 69.4,368.5 C77.4,368.1 84.1,367.5 91.4,367 C98.7,366.5 107.3,366.2 113.4,365.7 C119.5,365.2 123.7,364.7 128.1,364.1 C132.5,363.5 135.1,363.2 139.9,362.3 C144.7,361.4 151.4,360.4 157,358.5 C162.6,356.6 168.8,354.3 173.2,351.1 C177.6,347.9 180.1,343.1 183.5,339.4 C186.9,335.7 190.6,331.9 193.7,329.1 C196.8,326.3 199.1,323.9 201.8,322.5 C204.5,321.1 207.3,320.6 209.9,320.6 C212.5,320.6 214.5,321.4 217.2,322.5 C219.9,323.6 223.1,325.1 226,326.9 C228.9,328.7 231.4,330.4 234.9,333.5 C238.4,336.6 242.9,341.9 246.8,345.2 C250.7,348.5 254.3,350.9 258.5,353.3 C262.7,355.7 266.9,357.7 271.9,359.5 C276.9,361.3 283.1,362.9 288.7,364 C294.3,365.1 299.9,365.6 305.5,366.2 C311.1,366.8 317.1,367.1 322.3,367.4 C327.6,367.7 334.6,367.9 337,368" fill="none" stroke="#5cb847" stroke-width="1.8"/>
<path d="M43.5,435.5 C47.8,435.2 61.4,434.2 69.4,433.6 C77.4,433 84.1,432.6 91.4,431.7 C98.7,430.8 107.3,429.8 113.4,428.5 C119.5,427.2 123.7,425.5 128.1,424.1 C132.5,422.8 135.6,422.1 139.9,420.4 C144.2,418.7 148.4,416.9 153.9,413.8 C159.4,410.7 167,405.4 172.7,401.5 C178.3,397.6 183.4,393.5 187.8,390.2 C192.2,386.9 196,383.4 199.2,381.7 C202.3,380 204.2,379.9 206.7,379.8 C209.2,379.7 211.4,379.7 214.2,380.8 C217,381.9 220.2,383.9 223.7,386.4 C227.2,388.9 231.3,392.4 235.3,395.6 C239.3,398.9 243.7,402.9 247.8,405.9 C251.9,408.9 255.1,411.2 260,413.8 C264.9,416.4 271.7,419.5 277.5,421.7 C283.3,423.9 289.1,425.4 295,426.9 C300.9,428.3 305.6,429.4 312.6,430.4 C319.6,431.4 332.9,432.6 337,433" fill="none" stroke="#5559ad" stroke-width="1.8"/>
<circle cx="45.1" cy="306.5" r="3.0" fill="#2f4ea6"/>
<circle cx="52" cy="305.5" r="3.0" fill="#2f4ea6"/>
<circle cx="58.8" cy="307.6" r="3.0" fill="#2f4ea6"/>
<circle cx="65.7" cy="306.1" r="3.0" fill="#2f4ea6"/>
<circle cx="72.6" cy="302.9" r="3.0" fill="#2f4ea6"/>
<circle cx="79.4" cy="305.1" r="3.0" fill="#2f4ea6"/>
<circle cx="85.8" cy="307.3" r="3.0" fill="#2f4ea6"/>
<circle cx="92.6" cy="304.6" r="3.0" fill="#2f4ea6"/>
<circle cx="99.2" cy="302.6" r="3.0" fill="#2f4ea6"/>
<circle cx="105.8" cy="301.7" r="3.0" fill="#2f4ea6"/>
<circle cx="112.4" cy="299.9" r="3.0" fill="#2f4ea6"/>
<circle cx="119" cy="298.5" r="3.0" fill="#2f4ea6"/>
<circle cx="125.9" cy="296.7" r="3.0" fill="#2f4ea6"/>
<circle cx="132.2" cy="292.9" r="3.0" fill="#2f4ea6"/>
<circle cx="138.6" cy="294.1" r="3.0" fill="#2f4ea6"/>
<circle cx="145.3" cy="292.9" r="3.0" fill="#2f4ea6"/>
<circle cx="151.9" cy="290.4" r="3.0" fill="#2f4ea6"/>
<circle cx="158.2" cy="282" r="3.0" fill="#2f4ea6"/>
<circle cx="164.7" cy="276.4" r="3.0" fill="#2f4ea6"/>
<circle cx="171" cy="269.1" r="3.0" fill="#2f4ea6"/>
<circle cx="177.6" cy="266.4" r="3.0" fill="#2f4ea6"/>
<circle cx="183.9" cy="262.5" r="3.0" fill="#2f4ea6"/>
<circle cx="190.1" cy="260.6" r="3.0" fill="#2f4ea6"/>
<circle cx="196.4" cy="257" r="3.0" fill="#2f4ea6"/>
<circle cx="202.3" cy="258.1" r="3.0" fill="#2f4ea6"/>
<circle cx="208.4" cy="264.7" r="3.0" fill="#2f4ea6"/>
<circle cx="214.6" cy="271.7" r="3.0" fill="#2f4ea6"/>
<circle cx="220.9" cy="275.7" r="3.0" fill="#2f4ea6"/>
<circle cx="226.8" cy="279.4" r="3.0" fill="#2f4ea6"/>
<circle cx="232.6" cy="281.3" r="3.0" fill="#2f4ea6"/>
<circle cx="238.4" cy="282.2" r="3.0" fill="#2f4ea6"/>
<circle cx="244.8" cy="288.6" r="3.0" fill="#2f4ea6"/>
<circle cx="250.5" cy="292.3" r="3.0" fill="#2f4ea6"/>
<circle cx="256" cy="296.1" r="3.0" fill="#2f4ea6"/>
<circle cx="261.9" cy="297.3" r="3.0" fill="#2f4ea6"/>
<circle cx="267.8" cy="299.5" r="3.0" fill="#2f4ea6"/>
<circle cx="273.3" cy="299.5" r="3.0" fill="#2f4ea6"/>
<circle cx="279" cy="297.8" r="3.0" fill="#2f4ea6"/>
<circle cx="284.5" cy="298.7" r="3.0" fill="#2f4ea6"/>
<circle cx="290.4" cy="300" r="3.0" fill="#2f4ea6"/>
<circle cx="295.9" cy="302.9" r="3.0" fill="#2f4ea6"/>
<circle cx="301.8" cy="302" r="3.0" fill="#2f4ea6"/>
<circle cx="307.2" cy="302.9" r="3.0" fill="#2f4ea6"/>
<circle cx="312.2" cy="302.9" r="3.0" fill="#2f4ea6"/>
<circle cx="317.6" cy="300.3" r="3.0" fill="#2f4ea6"/>
<circle cx="323.1" cy="300.7" r="3.0" fill="#2f4ea6"/>
<circle cx="329" cy="298.7" r="3.0" fill="#2f4ea6"/>
<circle cx="334.4" cy="299.5" r="3.0" fill="#2f4ea6"/>
<polygon points="44.4,364.1 40.9,370.1 47.9,370.1" fill="#5cb847"/>
<polygon points="50.3,359.3 46.8,365.3 53.8,365.3" fill="#5cb847"/>
<polygon points="56.9,358.7 53.4,364.7 60.4,364.7" fill="#5cb847"/>
<polygon points="62.8,350.9 59.3,356.9 66.3,356.9" fill="#5cb847"/>
<polygon points="69.1,356.4 65.6,362.4 72.6,362.4" fill="#5cb847"/>
<polygon points="75.5,361.9 72,367.9 79,367.9" fill="#5cb847"/>
<polygon points="81.9,359 78.4,365 85.4,365" fill="#5cb847"/>
<polygon points="88.2,356.8 84.7,362.8 91.7,362.8" fill="#5cb847"/>
<polygon points="94.3,367.1 90.8,373.1 97.8,373.1" fill="#5cb847"/>
<polygon points="100.9,377.4 97.4,383.4 104.4,383.4" fill="#5cb847"/>
<polygon points="107.3,376.9 103.8,382.9 110.8,382.9" fill="#5cb847"/>
<polygon points="113.4,371.9 109.9,377.9 116.9,377.9" fill="#5cb847"/>
<polygon points="120,357.5 116.5,363.5 123.5,363.5" fill="#5cb847"/>
<polygon points="126.6,360.2 123.1,366.2 130.1,366.2" fill="#5cb847"/>
<polygon points="132.5,373 129,379 136,379" fill="#5cb847"/>
<polygon points="138.8,354.9 135.3,360.9 142.3,360.9" fill="#5cb847"/>
<polygon points="145,368.4 141.5,374.4 148.5,374.4" fill="#5cb847"/>
<polygon points="151.4,370.1 147.9,376.1 154.9,376.1" fill="#5cb847"/>
<polygon points="157.8,359.6 154.3,365.6 161.3,365.6" fill="#5cb847"/>
<polygon points="164.1,353 160.6,359 167.6,359" fill="#5cb847"/>
<polygon points="170.5,351 167,357 174,357" fill="#5cb847"/>
<polygon points="176.8,348.6 173.3,354.6 180.3,354.6" fill="#5cb847"/>
<polygon points="182.7,333.9 179.2,339.9 186.2,339.9" fill="#5cb847"/>
<polygon points="189.3,330.9 185.8,336.9 192.8,336.9" fill="#5cb847"/>
<polygon points="195.5,323.6 192,329.6 199,329.6" fill="#5cb847"/>
<polygon points="201.8,317.7 198.3,323.7 205.3,323.7" fill="#5cb847"/>
<polygon points="208.1,326.5 204.6,332.5 211.6,332.5" fill="#5cb847"/>
<polygon points="214.6,319.9 211.1,325.9 218.1,325.9" fill="#5cb847"/>
<polygon points="220.9,322.9 217.4,328.9 224.4,328.9" fill="#5cb847"/>
<polygon points="227.2,325.8 223.7,331.8 230.7,331.8" fill="#5cb847"/>
<polygon points="233.3,329.7 229.8,335.7 236.8,335.7" fill="#5cb847"/>
<polygon points="240.1,328.8 236.6,334.8 243.6,334.8" fill="#5cb847"/>
<polygon points="246.4,336.9 242.9,342.9 249.9,342.9" fill="#5cb847"/>
<polygon points="252.7,336.9 249.2,342.9 256.2,342.9" fill="#5cb847"/>
<polygon points="258.9,350.7 255.4,356.7 262.4,356.7" fill="#5cb847"/>
<polygon points="265.2,354 261.7,360 268.7,360" fill="#5cb847"/>
<polygon points="271.6,356.7 268.1,362.7 275.1,362.7" fill="#5cb847"/>
<polygon points="277.8,359.6 274.3,365.6 281.3,365.6" fill="#5cb847"/>
<polygon points="284,363.7 280.5,369.7 287.5,369.7" fill="#5cb847"/>
<polygon points="290.4,360.4 286.9,366.4 293.9,366.4" fill="#5cb847"/>
<polygon points="296.8,367.4 293.3,373.4 300.3,373.4" fill="#5cb847"/>
<polygon points="303,360.4 299.5,366.4 306.5,366.4" fill="#5cb847"/>
<polygon points="309.2,361.2 305.7,367.2 312.7,367.2" fill="#5cb847"/>
<polygon points="315.6,368.4 312.1,374.4 319.1,374.4" fill="#5cb847"/>
<polygon points="321.9,375.5 318.4,381.5 325.4,381.5" fill="#5cb847"/>
<polygon points="328.2,377.2 324.7,383.2 331.7,383.2" fill="#5cb847"/>
<polygon points="334.4,373.5 330.9,379.5 337.9,379.5" fill="#5cb847"/>
<polygon points="48.4,419.8 51.9,423.3 48.4,426.8 44.9,423.3" fill="#5f6bbd" stroke="#5a66b8" stroke-width="0.4"/>
<polygon points="54.7,402.9 58.2,406.4 54.7,409.9 51.2,406.4" fill="#5f6bbd" stroke="#5a66b8" stroke-width="0.4"/>
<polygon points="61,405.1 64.5,408.6 61,412.1 57.5,408.6" fill="#5f6bbd" stroke="#5a66b8" stroke-width="0.4"/>
<polygon points="67.2,425.3 70.7,428.8 67.2,432.3 63.7,428.8" fill="#5f6bbd" stroke="#5a66b8" stroke-width="0.4"/>
<polygon points="73.8,423.8 77.3,427.3 73.8,430.8 70.3,427.3" fill="#5f6bbd" stroke="#5a66b8" stroke-width="0.4"/>
<polygon points="79.9,434.1 83.4,437.6 79.9,441.1 76.4,437.6" fill="#5f6bbd" stroke="#5a66b8" stroke-width="0.4"/>
<polygon points="86.3,441.1 89.8,444.6 86.3,448.1 82.8,444.6" fill="#5f6bbd" stroke="#5a66b8" stroke-width="0.4"/>
<polygon points="92.6,427.6 96.1,431.1 92.6,434.6 89.1,431.1" fill="#5f6bbd" stroke="#5a66b8" stroke-width="0.4"/>
<polygon points="98.7,427.2 102.2,430.7 98.7,434.2 95.2,430.7" fill="#5f6bbd" stroke="#5a66b8" stroke-width="0.4"/>
<polygon points="111.5,438.9 115,442.4 111.5,445.9 108,442.4" fill="#5f6bbd" stroke="#5a66b8" stroke-width="0.4"/>
<polygon points="117.8,429.4 121.3,432.9 117.8,436.4 114.3,432.9" fill="#5f6bbd" stroke="#5a66b8" stroke-width="0.4"/>
<polygon points="124,431.6 127.5,435.1 124,438.6 120.5,435.1" fill="#5f6bbd" stroke="#5a66b8" stroke-width="0.4"/>
<polygon points="130.7,414.7 134.2,418.2 130.7,421.7 127.2,418.2" fill="#5f6bbd" stroke="#5a66b8" stroke-width="0.4"/>
<polygon points="142.9,413.1 146.4,416.6 142.9,420.1 139.4,416.6" fill="#5f6bbd" stroke="#5a66b8" stroke-width="0.4"/>
<polygon points="149.2,392.3 152.7,395.8 149.2,399.3 145.7,395.8" fill="#5f6bbd" stroke="#5a66b8" stroke-width="0.4"/>
<polygon points="156.1,392 159.6,395.5 156.1,399 152.6,395.5" fill="#5f6bbd" stroke="#5a66b8" stroke-width="0.4"/>
<polygon points="162.4,420.7 165.9,424.2 162.4,427.7 158.9,424.2" fill="#5f6bbd" stroke="#5a66b8" stroke-width="0.4"/>
<polygon points="168.6,397.6 172.1,401.1 168.6,404.6 165.1,401.1" fill="#5f6bbd" stroke="#5a66b8" stroke-width="0.4"/>
<polygon points="174.6,390.8 178.1,394.3 174.6,397.8 171.1,394.3" fill="#5f6bbd" stroke="#5a66b8" stroke-width="0.4"/>
<polygon points="181.2,382.5 184.7,386 181.2,389.5 177.7,386" fill="#5f6bbd" stroke="#5a66b8" stroke-width="0.4"/>
<polygon points="187.5,367.4 191,370.9 187.5,374.4 184,370.9" fill="#5f6bbd" stroke="#5a66b8" stroke-width="0.4"/>
<polygon points="193.9,376.9 197.4,380.4 193.9,383.9 190.4,380.4" fill="#5f6bbd" stroke="#5a66b8" stroke-width="0.4"/>
<polygon points="200.1,378.8 203.6,382.3 200.1,385.8 196.6,382.3" fill="#5f6bbd" stroke="#5a66b8" stroke-width="0.4"/>
<polygon points="206.3,392.7 209.8,396.2 206.3,399.7 202.8,396.2" fill="#5f6bbd" stroke="#5a66b8" stroke-width="0.4"/>
<polygon points="212.7,386.7 216.2,390.2 212.7,393.7 209.2,390.2" fill="#5f6bbd" stroke="#5a66b8" stroke-width="0.4"/>
<polygon points="219,388.6 222.5,392.1 219,395.6 215.5,392.1" fill="#5f6bbd" stroke="#5a66b8" stroke-width="0.4"/>
<polygon points="225.6,400.8 229.1,404.3 225.6,407.8 222.1,404.3" fill="#5f6bbd" stroke="#5a66b8" stroke-width="0.4"/>
<polygon points="231.8,401.3 235.3,404.8 231.8,408.3 228.3,404.8" fill="#5f6bbd" stroke="#5a66b8" stroke-width="0.4"/>
<polygon points="238.1,389.3 241.6,392.8 238.1,396.3 234.6,392.8" fill="#5f6bbd" stroke="#5a66b8" stroke-width="0.4"/>
<polygon points="244.3,391.9 247.8,395.4 244.3,398.9 240.8,395.4" fill="#5f6bbd" stroke="#5a66b8" stroke-width="0.4"/>
<polygon points="250.4,417.6 253.9,421.1 250.4,424.6 246.9,421.1" fill="#5f6bbd" stroke="#5a66b8" stroke-width="0.4"/>
<polygon points="256.9,381.9 260.4,385.4 256.9,388.9 253.4,385.4" fill="#5f6bbd" stroke="#5a66b8" stroke-width="0.4"/>
<polygon points="263.2,419 266.7,422.5 263.2,426 259.7,422.5" fill="#5f6bbd" stroke="#5a66b8" stroke-width="0.4"/>
<polygon points="269.7,418.2 273.2,421.7 269.7,425.2 266.2,421.7" fill="#5f6bbd" stroke="#5a66b8" stroke-width="0.4"/>
<polygon points="276.1,423.4 279.6,426.9 276.1,430.4 272.6,426.9" fill="#5f6bbd" stroke="#5a66b8" stroke-width="0.4"/>
<polygon points="282.4,429.9 285.9,433.4 282.4,436.9 278.9,433.4" fill="#5f6bbd" stroke="#5a66b8" stroke-width="0.4"/>
<polygon points="288.4,426.4 291.9,429.9 288.4,433.4 284.9,429.9" fill="#5f6bbd" stroke="#5a66b8" stroke-width="0.4"/>
<polygon points="294.7,409.4 298.2,412.9 294.7,416.4 291.2,412.9" fill="#5f6bbd" stroke="#5a66b8" stroke-width="0.4"/>
<polygon points="301.2,389.6 304.7,393.1 301.2,396.6 297.7,393.1" fill="#5f6bbd" stroke="#5a66b8" stroke-width="0.4"/>
<polygon points="307.3,418.7 310.8,422.2 307.3,425.7 303.8,422.2" fill="#5f6bbd" stroke="#5a66b8" stroke-width="0.4"/>
<polygon points="314,408.9 317.5,412.4 314,415.9 310.5,412.4" fill="#5f6bbd" stroke="#5a66b8" stroke-width="0.4"/>
<polygon points="320.4,414.1 323.9,417.6 320.4,421.1 316.9,417.6" fill="#5f6bbd" stroke="#5a66b8" stroke-width="0.4"/>
<polygon points="326.6,422.9 330.1,426.4 326.6,429.9 323.1,426.4" fill="#5f6bbd" stroke="#5a66b8" stroke-width="0.4"/>
<polygon points="332.7,413.8 336.2,417.3 332.7,420.8 329.2,417.3" fill="#5f6bbd" stroke="#5a66b8" stroke-width="0.4"/>
</g>
<line x1="194.5" y1="268" x2="207.6" y2="417.5" stroke="#111" stroke-width="2" stroke-dasharray="5,5.3"/>
<line x1="43.4" y1="249.2" x2="337" y2="249.2" stroke="#999" stroke-width="1"/>
<line x1="337" y1="249.2" x2="337" y2="443.3" stroke="#c6c6c6" stroke-width="1"/>
<line x1="43.4" y1="248.7" x2="43.4" y2="443.8" stroke="#7d7d7d" stroke-width="1"/>
<line x1="43.4" y1="443.3" x2="337" y2="443.3" stroke="#7d7d7d" stroke-width="1"/>
<line x1="40.2" y1="256.4" x2="43.4" y2="256.4" stroke="#7d7d7d" stroke-width="0.8"/>
<line x1="40.2" y1="291.6" x2="43.4" y2="291.6" stroke="#7d7d7d" stroke-width="0.8"/>
<line x1="40.2" y1="326.9" x2="43.4" y2="326.9" stroke="#7d7d7d" stroke-width="0.8"/>
<line x1="40.2" y1="362.1" x2="43.4" y2="362.1" stroke="#7d7d7d" stroke-width="0.8"/>
<line x1="40.2" y1="397.4" x2="43.4" y2="397.4" stroke="#7d7d7d" stroke-width="0.8"/>
<line x1="40.2" y1="432.6" x2="43.4" y2="432.6" stroke="#7d7d7d" stroke-width="0.8"/>
<line x1="43.4" y1="443.3" x2="43.4" y2="446.5" stroke="#7d7d7d" stroke-width="0.8"/>
<line x1="80.1" y1="443.3" x2="80.1" y2="445.1" stroke="#7d7d7d" stroke-width="0.8"/>
<line x1="116.8" y1="443.3" x2="116.8" y2="446.5" stroke="#7d7d7d" stroke-width="0.8"/>
<line x1="153.5" y1="443.3" x2="153.5" y2="445.1" stroke="#7d7d7d" stroke-width="0.8"/>
<line x1="190.2" y1="443.3" x2="190.2" y2="446.5" stroke="#7d7d7d" stroke-width="0.8"/>
<line x1="226.9" y1="443.3" x2="226.9" y2="445.1" stroke="#7d7d7d" stroke-width="0.8"/>
<line x1="263.6" y1="443.3" x2="263.6" y2="446.5" stroke="#7d7d7d" stroke-width="0.8"/>
<line x1="300.3" y1="443.3" x2="300.3" y2="445.1" stroke="#7d7d7d" stroke-width="0.8"/>
<line x1="337" y1="443.3" x2="337" y2="446.5" stroke="#7d7d7d" stroke-width="0.8"/>
<text x="43.4" y="458.9" font-size="10.2" text-anchor="middle" fill="#555555" textLength="21.2" lengthAdjust="spacingAndGlyphs" >0.20</text>
<text x="116.8" y="458.9" font-size="10.2" text-anchor="middle" fill="#555555" textLength="21.2" lengthAdjust="spacingAndGlyphs" >0.25</text>
<text x="190.2" y="458.9" font-size="10.2" text-anchor="middle" fill="#555555" textLength="21.2" lengthAdjust="spacingAndGlyphs" >0.30</text>
<text x="263.6" y="458.9" font-size="10.2" text-anchor="middle" fill="#555555" textLength="21.2" lengthAdjust="spacingAndGlyphs" >0.35</text>
<text x="337" y="458.9" font-size="10.2" text-anchor="middle" fill="#555555" textLength="21.2" lengthAdjust="spacingAndGlyphs" >0.40</text>
<text x="152.3" y="473.6" font-size="10" text-anchor="start" fill="#555555" textLength="75.1" lengthAdjust="spacingAndGlyphs" ><tspan font-style="italic">H</tspan> (r.l.u. of YBCO)</text>
<text transform="translate(19.0,396.0) rotate(-90)" font-size="10.5" fill="#555555" textLength="100" lengthAdjust="spacingAndGlyphs">Normalized subtracted</text>
<text transform="translate(31.5,378.4) rotate(-90)" font-size="10.5" fill="#555555" textLength="63.5" lengthAdjust="spacingAndGlyphs">intensity (a.u.)</text>
<text x="370" y="253.6" font-size="11.2" text-anchor="start" fill="#111" font-weight="bold">d</text>
<line x1="415.6" y1="248.9" x2="684.3" y2="248.9" stroke="#c4c4c4" stroke-width="1"/>
<line x1="684.3" y1="248.9" x2="684.3" y2="443.2" stroke="#9a9a9a" stroke-width="1"/>
<line x1="415.6" y1="248.4" x2="415.6" y2="443.7" stroke="#7d7d7d" stroke-width="1"/>
<line x1="415.6" y1="443.2" x2="684.3" y2="443.2" stroke="#7d7d7d" stroke-width="1"/>
<line x1="415.6" y1="301" x2="670.7" y2="423.6" stroke="#7a7a7a" stroke-width="3.3"/>
<circle cx="433.5" cy="302.7" r="4.4" fill="#1d1d1f"/>
<circle cx="451.1" cy="311.5" r="4.4" fill="#1d1d1f"/>
<circle cx="472.4" cy="320.6" r="4.4" fill="#1d1d1f"/>
<circle cx="517.2" cy="352.2" r="4.4" fill="#1d1d1f"/>
<circle cx="534.9" cy="377.6" r="4.4" fill="#1d1d1f"/>
<circle cx="619" cy="385.5" r="4.4" fill="#1d1d1f"/>
<circle cx="632.4" cy="407" r="4.4" fill="#1d1d1f"/>
<circle cx="663.6" cy="420.7" r="4.4" fill="#1d1d1f"/>
<polygon points="571.3,367.2 580.9,377.8 572.1,387 562.1,377.8" fill="#7c86cc" stroke="#5360b2" stroke-width="0.8"/>
<polygon points="561.7,361 552.3,377 570.6,377.3" fill="#5cb847"/>
<circle cx="577.1" cy="388" r="4.4" fill="#1d1d1f"/>
<circle cx="626.2" cy="402" r="7" fill="#3152aa"/>
<circle cx="576.6" cy="263.6" r="4.6" fill="#1d1d1f"/>
<text x="585.6" y="267" font-size="10" text-anchor="start" fill="#484848" textLength="90.4" lengthAdjust="spacingAndGlyphs" >H + K average (bulk)</text>
<line x1="411.6" y1="443.2" x2="415.6" y2="443.2" stroke="#7d7d7d" stroke-width="0.8"/>
<line x1="413.6" y1="428.3" x2="415.6" y2="428.3" stroke="#7d7d7d" stroke-width="0.8"/>
<line x1="411.6" y1="413.4" x2="415.6" y2="413.4" stroke="#7d7d7d" stroke-width="0.8"/>
<line x1="413.6" y1="398.5" x2="415.6" y2="398.5" stroke="#7d7d7d" stroke-width="0.8"/>
<line x1="411.6" y1="383.6" x2="415.6" y2="383.6" stroke="#7d7d7d" stroke-width="0.8"/>
<line x1="413.6" y1="368.7" x2="415.6" y2="368.7" stroke="#7d7d7d" stroke-width="0.8"/>
<line x1="411.6" y1="353.8" x2="415.6" y2="353.8" stroke="#7d7d7d" stroke-width="0.8"/>
<line x1="413.6" y1="338.9" x2="415.6" y2="338.9" stroke="#7d7d7d" stroke-width="0.8"/>
<line x1="411.6" y1="324" x2="415.6" y2="324" stroke="#7d7d7d" stroke-width="0.8"/>
<line x1="413.6" y1="309.1" x2="415.6" y2="309.1" stroke="#7d7d7d" stroke-width="0.8"/>
<line x1="411.6" y1="294.2" x2="415.6" y2="294.2" stroke="#7d7d7d" stroke-width="0.8"/>
<line x1="413.6" y1="279.3" x2="415.6" y2="279.3" stroke="#7d7d7d" stroke-width="0.8"/>
<line x1="411.6" y1="264.4" x2="415.6" y2="264.4" stroke="#7d7d7d" stroke-width="0.8"/>
<text x="407.6" y="446.3" font-size="10.2" text-anchor="end" fill="#555555" textLength="21.2" lengthAdjust="spacingAndGlyphs" >0.29</text>
<text x="407.6" y="416.5" font-size="10.2" text-anchor="end" fill="#555555" textLength="21.2" lengthAdjust="spacingAndGlyphs" >0.30</text>
<text x="407.6" y="386.7" font-size="10.2" text-anchor="end" fill="#555555" textLength="18.2" lengthAdjust="spacingAndGlyphs" >0.31</text>
<text x="407.6" y="356.9" font-size="10.2" text-anchor="end" fill="#555555" textLength="21.2" lengthAdjust="spacingAndGlyphs" >0.32</text>
<text x="407.6" y="327.1" font-size="10.2" text-anchor="end" fill="#555555" textLength="21.2" lengthAdjust="spacingAndGlyphs" >0.33</text>
<text x="407.6" y="297.3" font-size="10.2" text-anchor="end" fill="#555555" textLength="21.2" lengthAdjust="spacingAndGlyphs" >0.34</text>
<text x="407.6" y="267.5" font-size="10.2" text-anchor="end" fill="#555555" textLength="21.2" lengthAdjust="spacingAndGlyphs" >0.35</text>
<line x1="415.6" y1="443.2" x2="415.6" y2="446.6" stroke="#7d7d7d" stroke-width="0.8"/>
<line x1="445.5" y1="443.2" x2="445.5" y2="445.2" stroke="#7d7d7d" stroke-width="0.8"/>
<line x1="475.5" y1="443.2" x2="475.5" y2="446.6" stroke="#7d7d7d" stroke-width="0.8"/>
<line x1="505.4" y1="443.2" x2="505.4" y2="445.2" stroke="#7d7d7d" stroke-width="0.8"/>
<line x1="535.3" y1="443.2" x2="535.3" y2="446.6" stroke="#7d7d7d" stroke-width="0.8"/>
<line x1="565.2" y1="443.2" x2="565.2" y2="445.2" stroke="#7d7d7d" stroke-width="0.8"/>
<line x1="595.2" y1="443.2" x2="595.2" y2="446.6" stroke="#7d7d7d" stroke-width="0.8"/>
<line x1="625.1" y1="443.2" x2="625.1" y2="445.2" stroke="#7d7d7d" stroke-width="0.8"/>
<line x1="655" y1="443.2" x2="655" y2="446.6" stroke="#7d7d7d" stroke-width="0.8"/>
<text x="415.6" y="458.2" font-size="10.2" text-anchor="middle" fill="#555555" textLength="21.2" lengthAdjust="spacingAndGlyphs" >0.08</text>
<text x="475.5" y="458.2" font-size="10.2" text-anchor="middle" fill="#555555" textLength="18.2" lengthAdjust="spacingAndGlyphs" >0.10</text>
<text x="535.3" y="458.2" font-size="10.2" text-anchor="middle" fill="#555555" textLength="18.2" lengthAdjust="spacingAndGlyphs" >0.12</text>
<text x="595.2" y="458.2" font-size="10.2" text-anchor="middle" fill="#555555" textLength="18.2" lengthAdjust="spacingAndGlyphs" >0.14</text>
<text x="655" y="458.2" font-size="10.2" text-anchor="middle" fill="#555555" textLength="18.2" lengthAdjust="spacingAndGlyphs" >0.16</text>
<text x="548" y="469.5" font-size="10" text-anchor="start" fill="#555555" font-style="italic">p</text>
<text transform="translate(378.7,358.9) rotate(-90)" font-size="11" fill="#222" font-weight="bold">Q</text>
<text transform="translate(382.0,350.6) rotate(-90)" font-size="8.2" fill="#444" textLength="16.2" lengthAdjust="spacingAndGlyphs">CDW</text>
</svg></body></html>
